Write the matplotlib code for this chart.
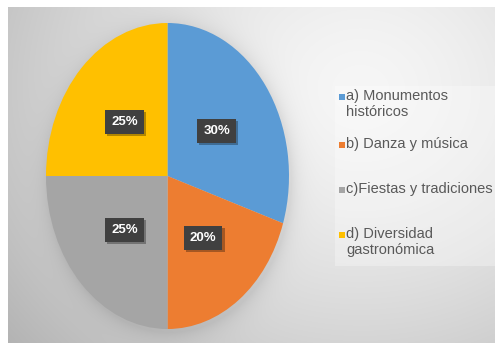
import numpy as np
import matplotlib
matplotlib.use("Agg")
import matplotlib.pyplot as plt
import matplotlib.patheffects as pe
from matplotlib.patches import Rectangle

# Survey results: share of answers per category
categories = ["a) Monumentos\nhistóricos", "b) Danza y música",
              "c)Fiestas y tradiciones", "d) Diversidad\ngastronómica"]
values = [30, 20, 25, 25]
colors = ["#5b9bd5", "#ed7d31", "#a5a5a5", "#ffc000"]

W, H, DPI = 495, 343, 100
fig = plt.figure(figsize=(W / DPI, H / DPI), dpi=DPI)
fig.patch.set_facecolor("white")

# ---- background: soft radial gradient panel with a halo around the pie ----
pie_box = (46, 23, 289, 329)  # left, top, right, bottom in pixels
cx = (pie_box[0] + pie_box[2]) / 2
cy = (pie_box[1] + pie_box[3]) / 2
rx = (pie_box[2] - pie_box[0]) / 2
ry = (pie_box[3] - pie_box[1]) / 2

yy, xx = np.mgrid[0:H, 0:W].astype(float)
d = np.sqrt(((xx - 360) / 340) ** 2 + ((yy - 90) / 300) ** 2)
bg = 0.965 - 0.17 * np.clip(d, 0, 1.5) ** 1.5
e = np.sqrt(((xx - cx - 2) / rx) ** 2 + ((yy - cy - 3) / ry) ** 2)
halo = 0.08 * np.exp(-np.clip(e - 1.0, 0, None) / 0.07)
bg = bg - halo
panel = (xx >= 8) & (yy >= 7)
bg = np.where(panel, bg, 1.0)
img = np.dstack([bg, bg, bg]).clip(0, 1)

bg_ax = fig.add_axes([0, 0, 1, 1], zorder=0)
bg_ax.imshow(img, extent=(0, W, H, 0), aspect="auto", interpolation="bilinear")
bg_ax.set_xlim(0, W)
bg_ax.set_ylim(H, 0)
bg_ax.axis("off")

# legend panel (slightly lighter)
bg_ax.add_patch(Rectangle((335, 86), W - 335, 180, facecolor="white",
                          alpha=0.3, edgecolor="none"))

# ---- pie ----
ax = fig.add_axes([pie_box[0] / W, 1 - pie_box[3] / H,
                   (pie_box[2] - pie_box[0]) / W,
                   (pie_box[3] - pie_box[1]) / H], zorder=1)
wedges, texts, autotexts = ax.pie(
    values, colors=colors, startangle=90, counterclock=False,
    autopct="%1.0f%%", pctdistance=0.5, radius=1.0,
    wedgeprops=dict(linewidth=0),
)
ax.set_aspect("auto")
ax.set_xlim(-1, 1)
ax.set_ylim(-1, 1)
ax.patch.set_visible(False)

for t in autotexts:
    t.set_family("Liberation Sans")
    t.set_fontsize(9.5)
    t.set_fontweight("bold")
    t.set_color("white")
    t.set_zorder(4)
    t.set_bbox(dict(boxstyle="square,pad=0.45", facecolor="#404040",
                    edgecolor="none"))
    t.get_bbox_patch().set_path_effects(
        [pe.SimplePatchShadow(offset=(1.5, -1.5), shadow_rgbFace="black",
                              alpha=0.3), pe.Normal()])

# ---- legend ----
leg_rows = [97, 145, 190, 235]   # y of first text line of each entry (px)
for lab, col, y0 in zip(categories, colors, leg_rows):
    bg_ax.add_patch(Rectangle((338.5, y0 - 3.5), 6.5, 6.5, facecolor=col,
                              edgecolor="none", zorder=5))
    bg_ax.text(346, y0 - 8, lab, ha="left", va="top", fontsize=10.5,
               family="Liberation Sans", color="#595959",
               linespacing=1.2, zorder=5)

fig.savefig("out.png", dpi=DPI)
